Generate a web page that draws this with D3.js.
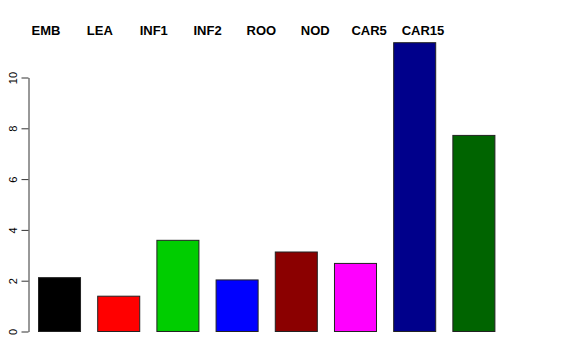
<!DOCTYPE html>
<meta charset="utf-8">
<script src="https://d3js.org/d3.v7.min.js"></script>
<style>
  body { margin: 0; background: #fff; }
</style>
<div id="chart"></div>
<script>

// data
var tissues = ["EMB", "LEA", "INF1", "INF2", "ROO", "NOD", "CAR5", "CAR15"];
var values = [2.12, 1.39, 3.59, 2.03, 3.13, 2.68, 11.37, 7.72];
var colors = ["#000000", "#FF0000", "#00CD00", "#0000FF", "#8B0000", "#FF00FF", "#00008B", "#006400"];
var yTicks = [0, 2, 4, 6, 8, 10];

var width = 576, height = 360;

var svg = d3.select("#chart")
  .append("svg")
    .attr("width", width)
    .attr("height", height)
    .style("font-family", "'Liberation Sans', Arial, sans-serif");

// x scale for the bars
var x = d3.scaleBand()
  .domain(tissues)
  .range([38, 494.4])
  .paddingInner(0.29)
  .paddingOuter(0);

// y scale
var y = d3.scaleLinear()
  .domain([0, 10])
  .range([331.5, 77.5]);

// bars
svg.selectAll("rect.bar")
  .data(tissues)
  .enter()
  .append("rect")
    .attr("class", "bar")
    .attr("x", function(d) { return x(d) + 0.5; })
    .attr("y", function(d, i) { return y(values[i]); })
    .attr("width", x.bandwidth())
    .attr("height", function(d, i) { return y(0) - y(values[i]); })
    .style("fill", function(d, i) { return colors[i]; })
    .style("stroke", "#222")
    .style("stroke-width", 1);

// y axis, R style
var yAxis = svg.append("g")
  .attr("transform", "translate(28.5,0)")
  .call(d3.axisLeft(y).tickValues(yTicks).tickSize(7).tickSizeOuter(0).tickFormat(d3.format("d")));
yAxis.select(".domain").attr("stroke", "#333");
yAxis.selectAll(".tick line").attr("stroke", "#333");
yAxis.selectAll(".tick text")
  .attr("x", null)
  .attr("dy", null)
  .attr("transform", "translate(-12,0) rotate(-90)")
  .attr("text-anchor", "middle")
  .style("font-size", "11px")
  .style("font-family", "'Liberation Sans', Arial, sans-serif")
  .attr("fill", "#000");

// labels across the top
var lab = d3.scalePoint()
  .domain(tissues)
  .range([46, 423]);

svg.selectAll("text.lab")
  .data(tissues)
  .enter()
  .append("text")
    .attr("class", "lab")
    .attr("x", function(d) { return lab(d); })
    .attr("y", 35)
    .attr("text-anchor", "middle")
    .style("font-size", "13px")
    .style("font-weight", "bold")
    .text(function(d) { return d; });

</script>
